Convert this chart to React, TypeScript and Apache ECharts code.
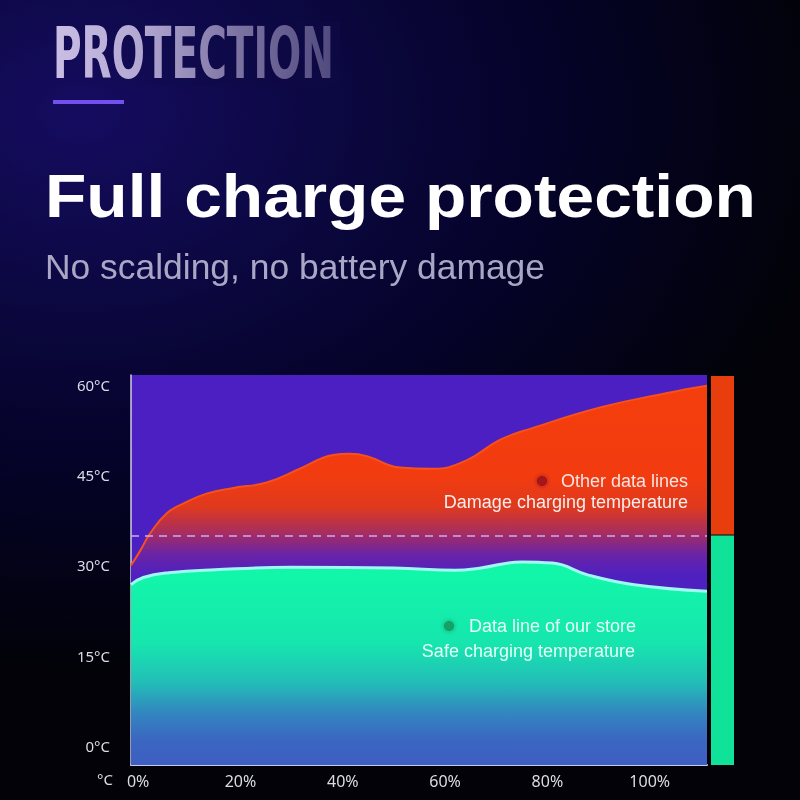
import React, { useEffect, useRef } from "react";
import * as echarts from "echarts";

// ---- data ----
const percentTicks = [0, 20, 40, 60, 80, 100];
const tempTicks = [0, 15, 30, 45, 60];

// "Other data lines" – damage charging temperature (x = charge %, y = °C)
const otherX = [-1.4, 0.5, 2.3, 5.6, 8.8, 13.5, 18.6, 25.1, 31.6, 38.1, 41.4, 44.7, 51.2, 57.7, 64.2, 70.7, 77.2, 90.3, 103.4, 111.2];
const otherTemp = [30.0, 32.6, 35.3, 38.7, 40.3, 42.0, 42.9, 43.8, 46.1, 48.4, 48.6, 48.2, 46.3, 46.1, 47.5, 50.9, 52.9, 56.3, 58.7, 59.9];

// "Data line of our store" – safe charging temperature
const storeX = [-1.4, 1, 6, 15, 30, 50, 62, 67, 75, 81, 88, 97, 111.2];
const storeTemp = [26.8, 28.0, 28.8, 29.3, 29.7, 29.6, 29.2, 29.6, 30.6, 30.4, 28.4, 26.8, 25.7];

const safeLimit = 35;
const yMin = -3.2;
const yMax = 61.7;
const xMin = -1.4;
const xMax = 111.2;

const bandColors = ["#e83e0e", "#10e29a"];

export default function App() {
  const ref = useRef<HTMLDivElement>(null);

  useEffect(() => {
    const chart = echarts.init(ref.current!, null, { renderer: "svg" });

    const otherData = otherX.map((x, i) => [x, otherTemp[i]]);
    const storeData = storeX.map((x, i) => [x, storeTemp[i]]);

    const option: any = {
      animation: false,
      backgroundColor: "transparent",
      grid: [
        {
          left: 131,
          top: 375,
          width: 576,
          height: 390,
          show: true,
          backgroundColor: "#4b1fc2",
          borderWidth: 0,
          containLabel: false,
          outerBoundsMode: "none",
        },
        {
          left: 711,
          top: 375,
          width: 23,
          height: 390,
          show: false,
          containLabel: false,
          outerBoundsMode: "none",
        },
      ],
      xAxis: [
        {
          type: "value",
          gridIndex: 0,
          min: xMin,
          max: xMax,
          splitLine: { show: false },
          axisTick: { show: false },
          axisLine: { show: true, onZero: false, lineStyle: { color: "#c3cdf2", width: 2 } },
          axisLabel: {
            customValues: percentTicks,
            formatter: (v: number) => `${v}%`,
            color: "#dcdce6",
            fontSize: 16,
            fontFamily: "Noto Sans",
            margin: 8,
          },
        },
        { type: "category", gridIndex: 1, data: ["band"], show: false },
      ],
      yAxis: [
        {
          type: "value",
          gridIndex: 0,
          min: yMin,
          max: yMax,
          splitLine: { show: false },
          axisTick: { show: false },
          axisLine: { show: true, onZero: false, lineStyle: { color: "#cfcfe2", width: 1.5 } },
          axisLabel: {
            customValues: tempTicks,
            formatter: (v: number) => `${v}°C`,
            color: "#dcdce6",
            fontSize: 15,
            fontFamily: "Noto Sans",
            margin: 21,
          },
        },
        { type: "value", gridIndex: 1, min: yMin, max: yMax, show: false },
      ],
      series: [
        {
          name: "Other data lines",
          type: "line",
          xAxisIndex: 0,
          yAxisIndex: 0,
          data: otherData,
          smooth: 0.45,
          showSymbol: false,
          z: 2,
          lineStyle: { color: "#f8501a", width: 2 },
          areaStyle: {
            origin: "start",
            opacity: 1,
            color: {
              type: "linear",
              x: 0,
              y: 385,
              x2: 0,
              y2: 575,
              global: true,
              colorStops: [
                { offset: 0, color: "#f43e0c" },
                { offset: 0.48, color: "#f23c10" },
                { offset: 0.64, color: "#e0391d" },
                { offset: 0.78, color: "#a62d60" },
                { offset: 0.89, color: "#6a24a6" },
                { offset: 1, color: "#4f20c0" },
              ],
            },
          },
        },
        {
          name: "Data line of our store",
          type: "line",
          xAxisIndex: 0,
          yAxisIndex: 0,
          data: storeData,
          smooth: 0.45,
          showSymbol: false,
          z: 3,
          lineStyle: { color: "#a0f8f2", width: 3 },
          areaStyle: {
            origin: "start",
            opacity: 1,
            color: {
              type: "linear",
              x: 0,
              y: 575,
              x2: 0,
              y2: 765,
              global: true,
              colorStops: [
                { offset: 0, color: "#12f6aa" },
                { offset: 0.36, color: "#16e6ae" },
                { offset: 0.56, color: "#22bfb7" },
                { offset: 0.73, color: "#3385c0" },
                { offset: 0.87, color: "#3b66c1" },
                { offset: 1, color: "#3e5fc2" },
              ],
            },
          },
          markLine: {
            silent: true,
            symbol: ["none", "none"],
            label: { show: false },
            lineStyle: { color: "#cfa9f2", type: [8, 6], width: 1.5 },
            data: [{ yAxis: safeLimit }],
          },
        },
        {
          name: "band",
          type: "custom",
          xAxisIndex: 1,
          yAxisIndex: 1,
          data: [
            [0, safeLimit, yMax],
            [0, yMin, safeLimit],
          ],
          renderItem: (params: any, api: any) => {
            const lo = api.value(1);
            const hi = api.value(2);
            const pTop = api.coord([0, hi]);
            const pBot = api.coord([0, lo]);
            const w = api.size([1, 0])[0];
            const isTop = params.dataIndex === 0;
            return {
              type: "rect",
              shape: {
                x: pTop[0] - w / 2,
                y: pTop[1] + (isTop ? 1 : 0),
                width: w,
                height: pBot[1] - pTop[1] - (isTop ? 2 : 0),
              },
              style: { fill: bandColors[params.dataIndex] },
            };
          },
        },
      ],
      graphic: [
        {
          type: "text",
          x: 53,
          y: 54,
          scaleX: 0.55,
          style: {
            text: "PROTECTION",
            fontSize: 71,
            fontWeight: "bold",
            fontFamily: "DejaVu Sans",
            align: "left",
            verticalAlign: "middle",
            fill: "#cbbfe6",
          },
        },
        {
          type: "rect",
          shape: { x: 50, y: 22, width: 290, height: 64 },
          style: {
            fill: {
              type: "linear",
              x: 0,
              y: 0,
              x2: 1,
              y2: 0,
              colorStops: [
                { offset: 0, color: "rgba(13,9,68,0)" },
                { offset: 0.3, color: "rgba(13,9,68,0.12)" },
                { offset: 0.65, color: "rgba(13,9,68,0.42)" },
                { offset: 1, color: "rgba(13,9,68,0.66)" },
              ],
            },
          },
        },
        {
          type: "rect",
          shape: { x: 53, y: 100, width: 71, height: 4 },
          style: { fill: "#7450ee" },
        },
        {
          type: "text",
          x: 45,
          y: 196,
          scaleX: 1.092,
          style: {
            text: "Full charge protection",
            fontSize: 62,
            fontWeight: "bold",
            fontFamily: "Liberation Sans",
            fill: "#ffffff",
            align: "left",
            verticalAlign: "middle",
          },
        },
        {
          type: "text",
          x: 45,
          y: 267,
          scaleX: 1.012,
          style: {
            text: "No scalding, no battery damage",
            fontSize: 35,
            fontFamily: "Liberation Sans",
            fill: "#aaa7c6",
            align: "left",
            verticalAlign: "middle",
          },
        },
        {
          type: "text",
          x: 113,
          y: 779,
          style: {
            text: "°C",
            fontSize: 15,
            fontFamily: "Noto Sans",
            fill: "#dcdce6",
            align: "right",
            verticalAlign: "middle",
          },
        },
        {
          type: "circle",
          z: 100,
          shape: { cx: 542, cy: 481, r: 5 },
          style: { fill: "#a3121a", shadowBlur: 4, shadowColor: "#a3121a" },
        },
        {
          type: "text",
          z: 100,
          x: 688,
          y: 481,
          style: {
            text: "Other data lines",
            fontSize: 18,
            fontFamily: "Liberation Sans",
            fill: "#f6e4e4",
            align: "right",
            verticalAlign: "middle",
          },
        },
        {
          type: "text",
          z: 100,
          x: 688,
          y: 502,
          style: {
            text: "Damage charging temperature",
            fontSize: 18,
            fontFamily: "Liberation Sans",
            fill: "#f8eeee",
            align: "right",
            verticalAlign: "middle",
          },
        },
        {
          type: "circle",
          z: 100,
          shape: { cx: 449, cy: 626, r: 5 },
          style: { fill: "#12a064", shadowBlur: 5, shadowColor: "#12a064" },
        },
        {
          type: "text",
          z: 100,
          x: 636,
          y: 626,
          style: {
            text: "Data line of our store",
            fontSize: 18,
            fontFamily: "Liberation Sans",
            fill: "#e4fff4",
            align: "right",
            verticalAlign: "middle",
          },
        },
        {
          type: "text",
          z: 100,
          x: 635,
          y: 651,
          style: {
            text: "Safe charging temperature",
            fontSize: 18,
            fontFamily: "Liberation Sans",
            fill: "#e4fff4",
            align: "right",
            verticalAlign: "middle",
          },
        },
      ],
    };

    chart.setOption(option);
    return () => chart.dispose();
  }, []);

  return (
    <div
      ref={ref}
      style={{
        position: "fixed",
        left: 0,
        top: 0,
        width: 800,
        height: 800,
        background:
          "radial-gradient(ellipse 95% 70% at 10% 14%, #150c60 0%, #0c0842 32%, #05032a 60%, #020208 100%)",
      }}
    />
  );
}
